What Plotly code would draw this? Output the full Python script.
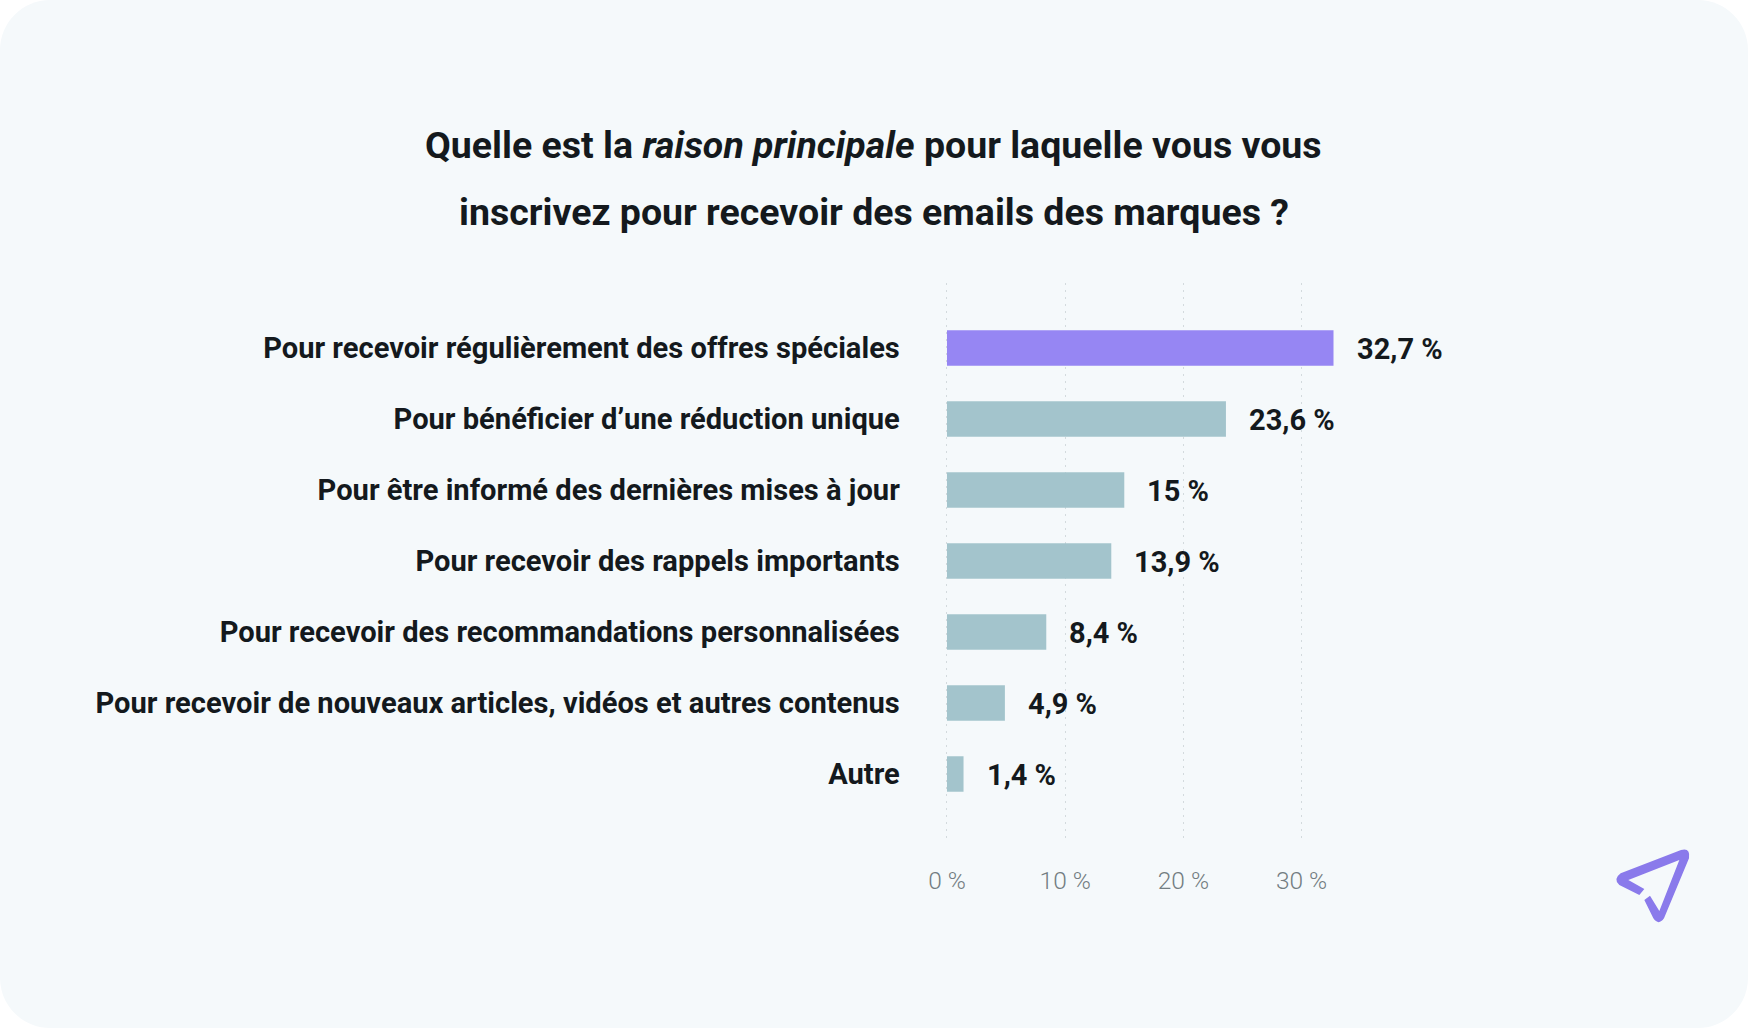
import plotly.graph_objects as go

W, H = 1748, 1028

# Data
categories = [
    'Pour recevoir régulièrement des offres spéciales',
    'Pour bénéficier d’une réduction unique',
    'Pour être informé des dernières mises à jour',
    'Pour recevoir des rappels importants',
    'Pour recevoir des recommandations personnalisées',
    'Pour recevoir de nouveaux articles, vidéos et autres contenus',
    'Autre',
]
values = [32.7, 23.6, 15, 13.9, 8.4, 4.9, 1.4]
value_labels = ['32,7 %', '23,6 %', '15 %', '13,9 %', '8,4 %', '4,9 %', '1,4 %']
tick_values = [0, 10, 20, 30]
tick_labels = ['0 %', '10 %', '20 %', '30 %']
title_lines = [
    'Quelle est la <i>raison principale</i> pour laquelle vous vous',
    'inscrivez pour recevoir des emails des marques ?',
]

PURPLE = '#9686f3'
TEAL = '#a3c4cc'
BG = '#f5f9fb'
INK = '#14191d'

bar_colors = [PURPLE] + [TEAL] * 6

fig = go.Figure(go.Bar(
    x=values,
    y=categories,
    orientation='h',
    width=0.5,
    marker=dict(color=bar_colors, line_width=0),
    hoverinfo='skip',
))

# value labels sit well clear of the bar ends
for v, c, t in zip(values, categories, value_labels):
    fig.add_annotation(
        x=v, y=c, text=t, xref='x', yref='y',
        xanchor='left', yanchor='middle', xshift=21, yshift=-1, showarrow=False,
        font=dict(family='Roboto', size=29, color=INK, weight=700),
    )

# title: two annotations, the line spacing is wider than plotly's <br>
for line, y_px in zip(title_lines, [145, 212]):
    fig.add_annotation(
        x=873.5 / W, y=1 - y_px / H, xref='paper', yref='paper',
        text=line, showarrow=False, xanchor='center', yanchor='middle',
        font=dict(family='Roboto', size=37.5, color=INK, weight=700),
    )

# card behind the chart
r = 50
k = r * 0.45
fig.add_shape(
    type='path', xref='paper', yref='paper', layer='below', line_width=0, fillcolor=BG,
    path=(f'M {r/W} 1 L {1-r/W} 1 C {1-k/W} 1 1 {1-k/H} 1 {1-r/H} L 1 {r/H} '
          f'C 1 {k/H} {1-k/W} 0 {1-r/W} 0 L {r/W} 0 C {k/W} 0 0 {k/H} 0 {r/H} '
          f'L 0 {1-r/H} C 0 {1-k/H} {k/W} 1 {r/W} 1 Z'),
)


def pt(zx, zy):
    # logo outline was measured on a 3x crop starting at (1600, 830)
    return f'{(1600 + zx / 3) / W} {1 - (830 + zy / 3) / H}'


# paper plane logo, filled outline with rounded corners
logo = (
    f'M {pt(62, 130)} L {pt(243, 60)} Q {pt(272, 52)} {pt(267, 85)} '
    f'L {pt(192, 265)} Q {pt(176, 288)} {pt(160, 265)} L {pt(133, 210)} L {pt(150, 197)} '
    f'L {pt(178, 243)} L {pt(238, 90)} L {pt(85, 150)} L {pt(133, 177)} L {pt(118, 195)} '
    f'L {pt(58, 165)} Q {pt(38, 148)} {pt(62, 130)} Z'
)
fig.add_shape(
    type='path', xref='paper', yref='paper', path=logo,
    fillcolor='#8a7aeb', line_width=0,
)

fig.update_layout(
    width=W,
    height=H,
    margin=dict(l=0, r=0, t=0, b=0),
    paper_bgcolor='white',
    plot_bgcolor='rgba(0,0,0,0)',
    showlegend=False,
    xaxis=dict(
        automargin=False,
        domain=[945.8 / W, 1419.8 / W],
        range=[-0.1, 40],
        tickmode='array',
        tickvals=tick_values,
        ticktext=tick_labels,
        tickfont=dict(family='Roboto', size=24.5, color='#737d82', weight=300),
        showgrid=True,
        gridcolor='#d3dadd',
        griddash='2px,5px',
        gridwidth=1,
        zeroline=False,
        showline=False,
        ticks='',
        ticklabelstandoff=25,
    ),
    yaxis=dict(
        automargin=False,
        domain=[1 - 838 / H, 1 - 283 / H],
        range=[6.9, -0.915],
        type='category',
        categoryorder='array',
        categoryarray=categories,
        tickfont=dict(family='Roboto', size=29.1, color=INK, weight=700),
        showgrid=False,
        zeroline=False,
        showline=False,
        ticks='',
        ticklabelstandoff=45,
    ),
)

fig.write_html('out.html', config=dict(displayModeBar=False),
               post_script="document.body.style.margin='0';")
